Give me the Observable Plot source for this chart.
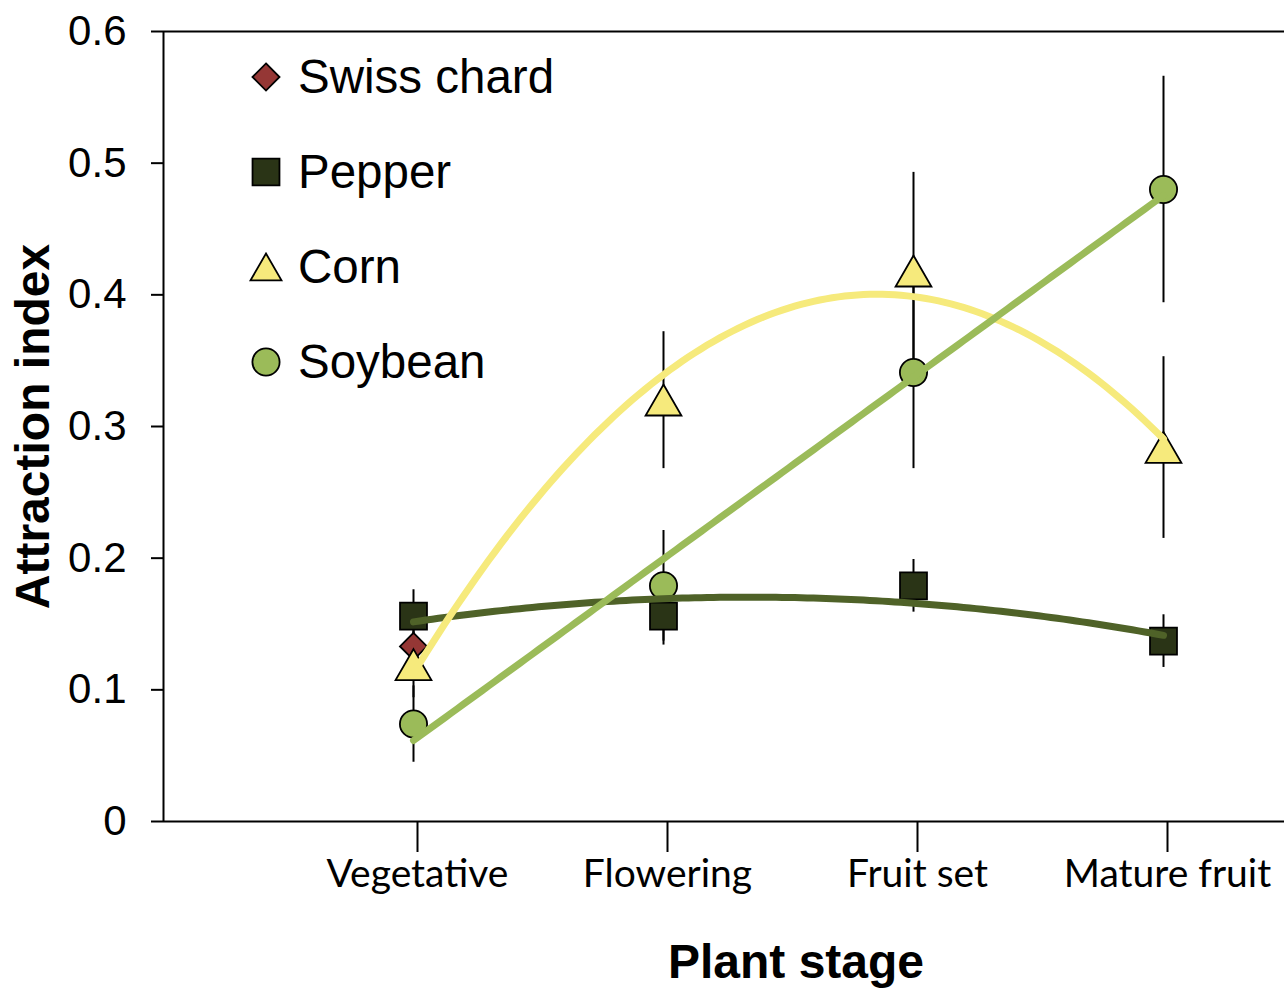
<!DOCTYPE html>
<html>
<head>
<meta charset="utf-8">
<script src="https://cdn.jsdelivr.net/npm/d3@7"></script>
<script src="https://cdn.jsdelivr.net/npm/@observablehq/plot@0.6"></script>
<style>
  body { margin: 0; background: #fff; }
  #wrap { position: relative; width: 1284px; height: 989px; overflow: hidden; }
  .legtext { position: absolute; font-family: "Liberation Sans", Arial, sans-serif; font-size: 47.5px; line-height: 52px; height: 52px; color: #000; white-space: nowrap; }
  .legsym { position: absolute; }
</style>
</head>
<body>
<div id="wrap"></div>
<script>
// ---------- data ----------
const stages = ["Vegetative", "Flowering", "Fruit set", "Mature fruit"];
const stageNum = [1, 2, 3, 4];
const yTicks = [0, 0.1, 0.2, 0.3, 0.4, 0.5, 0.6];

const seriesNames = ["Swiss chard", "Pepper", "Corn", "Soybean"];

const swissChard    = [0.133, null, null, null];
const swissChardErr = [0.015, null, null, null];
const pepper        = [0.156, 0.156, 0.179, 0.137];
const pepperErr     = [0.020, 0.022, 0.020, 0.020];
const corn          = [0.119, 0.320, 0.418, 0.284];
const cornErr       = [0.025, 0.052, 0.075, 0.069];
const soybean       = [0.074, 0.179, 0.341, 0.480];
const soybeanErr    = [0.029, 0.042, 0.073, 0.086];

// trendline type per series (polynomial degree; null = none)
const fitDegree = [null, 2, 2, 1];

// ---------- styles ----------
const markerStyle = {
  "Swiss chard": { symbol: "diamond2", r: 12.2, fill: "#953735", dy: 0, legR: 12.2, legDy: 0 },
  "Pepper":      { symbol: "square",   r: 15.2, fill: "#2a3416", dy: 0, legR: 15.2, legDy: 0 },
  "Corn":        { symbol: "triangle", r: 13.3, fill: "#f6ea7c", dy: 5, legR: 11.5, legDy: 4.4 },
  "Soybean":     { symbol: "circle",   r: 13.6, fill: "#9bbb59", dy: 0, legR: 13.6, legDy: 0 }
};
const lineColor = { "Pepper": "#4f6228", "Corn": "#f6ea7c", "Soybean": "#9bbb59" };

const seriesValues = [swissChard, pepper, corn, soybean];
const seriesErrors = [swissChardErr, pepperErr, cornErr, soybeanErr];

// ---------- table ----------
const rows = [];
seriesNames.forEach((name, s) => {
  stageNum.forEach((x, i) => {
    const v = seriesValues[s][i];
    if (v != null) rows.push({ series: name, stage: x, value: v, err: seriesErrors[s][i] });
  });
});

// least-squares polynomial trendline (like the spreadsheet's trendlines)
function polyfit(xs, ys, deg) {
  const n = deg + 1;
  const A = Array.from({ length: n }, () => Array(n + 1).fill(0));
  for (let k = 0; k < xs.length; k++) {
    for (let i = 0; i < n; i++) {
      for (let j = 0; j < n; j++) A[i][j] += Math.pow(xs[k], i + j);
      A[i][n] += ys[k] * Math.pow(xs[k], i);
    }
  }
  for (let i = 0; i < n; i++) {
    let p = i;
    for (let r = i + 1; r < n; r++) if (Math.abs(A[r][i]) > Math.abs(A[p][i])) p = r;
    [A[i], A[p]] = [A[p], A[i]];
    for (let r = 0; r < n; r++) {
      if (r !== i) {
        const f = A[r][i] / A[i][i];
        for (let c = i; c <= n; c++) A[r][c] -= f * A[i][c];
      }
    }
  }
  return A.map((row, i) => row[n] / row[i]);
}

const fitLines = [];
seriesNames.forEach((name, s) => {
  const deg = fitDegree[s];
  if (deg == null) return;
  const pts = rows.filter(d => d.series === name);
  const coef = polyfit(pts.map(d => d.stage), pts.map(d => d.value), deg);
  const x0 = d3.min(pts, d => d.stage), x1 = d3.max(pts, d => d.stage);
  const samples = d3.range(0, 121).map(k => x0 + (x1 - x0) * k / 120);
  fitLines.push({
    name,
    data: samples.map(x => ({ x, y: coef.reduce((acc, c, i) => acc + c * Math.pow(x, i), 0) }))
  });
});

// ---------- chart ----------
const font = "'Liberation Sans', Arial, sans-serif";

const marks = [
  // frame lines: bottom axis line, top border, left axis
  Plot.ruleY([0, 0.6], { stroke: "#000", strokeWidth: 2 }),
  Plot.ruleX([0], { stroke: "#000", strokeWidth: 2 }),
  Plot.axisY({
    ticks: yTicks, tickSize: 12, tickPadding: 25, strokeWidth: 2,
    tickFormat: d => d === 0 ? "0" : d.toFixed(1),
    fontSize: 42, fontFamily: font, label: null
  }),
  Plot.axisX({
    ticks: stageNum, tickSize: 31, tickPadding: 7, strokeWidth: 2, dx: 4,
    tickFormat: d => stages[d - 1],
    fontSize: 39, fontFamily: "Lato, 'Open Sans', sans-serif", label: null
  }),
  // error bars
  Plot.ruleX(rows, {
    x: "stage", y1: d => d.value - d.err, y2: d => d.value + d.err,
    stroke: "#000", strokeWidth: 2
  }),
  // markers
  ...seriesNames.map(name => Plot.dot(rows.filter(d => d.series === name), {
    x: "stage", y: "value",
    symbol: markerStyle[name].symbol, r: markerStyle[name].r,
    fill: markerStyle[name].fill, fillOpacity: 1,
    stroke: "#000", strokeWidth: 1.8,
    dy: markerStyle[name].dy
  })),
  // trendlines
  ...fitLines.map(f => Plot.line(f.data, {
    x: "x", y: "y", stroke: lineColor[f.name], strokeWidth: 7,
    strokeLinecap: "round", strokeLinejoin: "round"
  })),
  // axis titles
  Plot.text(["Attraction index"], {
    text: d => d, frameAnchor: "left", rotate: -90, dx: -130,
    textAnchor: "middle", lineAnchor: "middle",
    fontSize: 48, fontWeight: "bold", fontFamily: font
  }),
  Plot.text(["Plant stage"], {
    text: d => d, frameAnchor: "bottom", dx: 72, dy: 141,
    textAnchor: "middle", lineAnchor: "middle",
    fontSize: 48, fontWeight: "bold", fontFamily: font
  })
];

const chart = Plot.plot({
  width: 1284,
  height: 989,
  marginLeft: 163,
  marginRight: 0,
  marginTop: 31,
  marginBottom: 168,
  x: { type: "linear", domain: [0, 4.484] },
  y: { domain: [0, 0.6] },
  style: { fontFamily: font, fontSize: "42px", background: "#fff", color: "#000", overflow: "visible" },
  marks
});

const wrap = document.getElementById("wrap");
wrap.appendChild(chart);

// ---------- legend (inside plot area, top-left) ----------
const legendCenters = [77, 172, 267, 362];
const legendSymX = 266;
const legendTextX = 298;
const symMap = { diamond2: d3.symbolDiamond2, square: d3.symbolSquare, triangle: d3.symbolTriangle, circle: d3.symbolCircle };

seriesNames.forEach((name, i) => {
  const st = markerStyle[name];
  const cy = legendCenters[i];
  const sw = d3.create("svg")
    .attr("class", "legsym")
    .attr("width", 40).attr("height", 40)
    .style("left", (legendSymX - 20) + "px")
    .style("top", (cy - 20) + "px");
  sw.append("path")
    .attr("transform", `translate(20,${20 + st.legDy})`)
    .attr("d", d3.symbol(symMap[st.symbol], st.legR * st.legR * Math.PI)())
    .attr("fill", st.fill)
    .attr("stroke", "#000")
    .attr("stroke-width", 1.8);
  wrap.appendChild(sw.node());

  const t = document.createElement("div");
  t.className = "legtext";
  t.textContent = name;
  t.style.left = legendTextX + "px";
  t.style.top = (cy - 26) + "px";
  wrap.appendChild(t);
});
</script>
</body>
</html>
